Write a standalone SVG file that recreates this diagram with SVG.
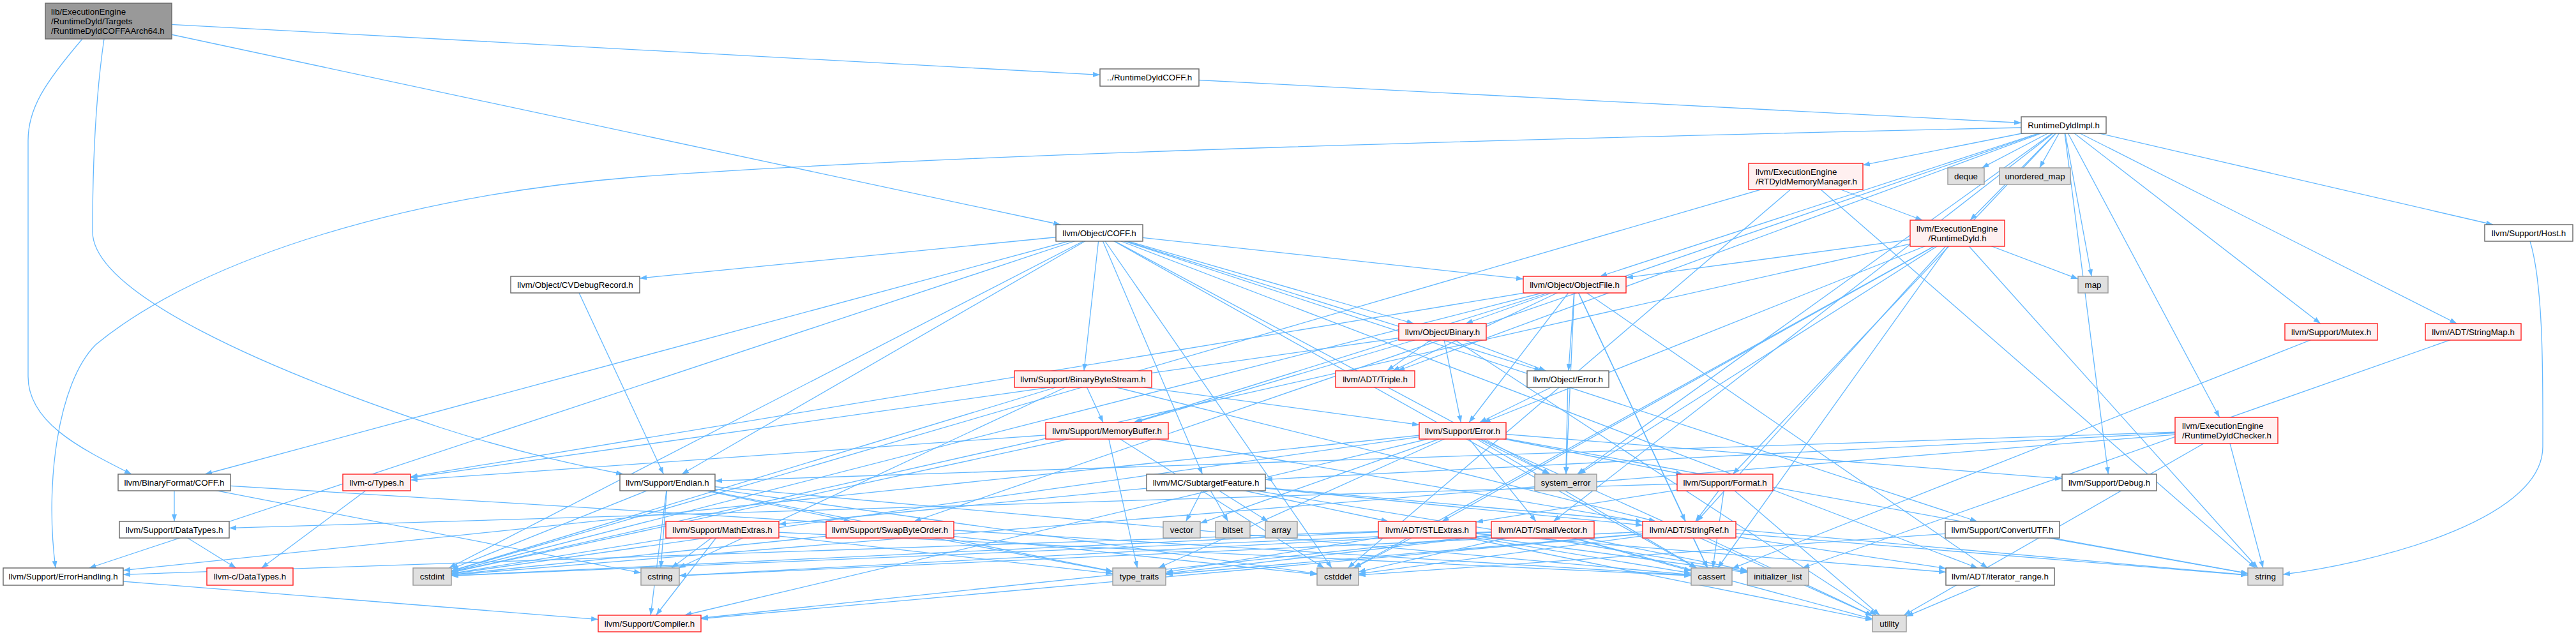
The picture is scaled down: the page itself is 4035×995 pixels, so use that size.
<svg xmlns="http://www.w3.org/2000/svg" width="4035" height="995" viewBox="0 0 4035 995">
<defs>
<marker id="arr" markerUnits="userSpaceOnUse" markerWidth="12" markerHeight="9" refX="11" refY="4" orient="auto"><path d="M0,0 L11,4 L0,8 Z" fill="#63b8ff"/></marker>
<style>
.e path{fill:none;stroke:#63b8ff;stroke-width:1.3;marker-end:url(#arr)}
rect{stroke-width:1.4}
.w rect{fill:#ffffff;stroke:#666666}
.r rect{fill:#fff0f0;stroke:#ff2020}
.g rect{fill:#e0e0e0;stroke:#999999}
.m rect{fill:#999999;stroke:#666666}
text{font-family:"Liberation Sans",Arial,Helvetica,sans-serif;font-size:13.33px;fill:#000}
.c{text-anchor:middle}
</style>
</defs>
<rect x="0" y="0" width="4035" height="995" fill="#ffffff" stroke="none"/>
<g id="connectors" class="e">
<path d="M170,33 L1723,117.3"/>
<path d="M170,33 L1661.2,352"/>
<path d="M129,61 C70,130 44,170 44,220 L44,590 C44,660 120,700 206,743"/>
<path d="M163,61 C150,150 145,250 145,363 C145,460 420,580 690,670 C820,712 920,732 976,743"/>
<path d="M1800.5,121.5 L3166,192.5"/>
<path d="M3232.5,196 L2918,258.7"/>
<path d="M3232.5,196 L3104.4,263"/>
<path d="M3232.5,196 L3194.8,263"/>
<path d="M3232.5,196 L3086,345"/>
<path d="M3232.5,196 L3276.1,433"/>
<path d="M3232.5,196 L3905,352"/>
<path d="M3232.5,196 L2506.3,433"/>
<path d="M3232.5,196 L3634.7,507"/>
<path d="M3232.5,196 L3848.3,507"/>
<path d="M3232.5,196 L2189.2,581"/>
<path d="M3232.5,196 L3476.6,654"/>
<path d="M3232.5,196 L2470.6,743"/>
<path d="M3232.5,196 L2714.3,743"/>
<path d="M3232.5,196 L3302.3,743"/>
<path d="M3232.5,196 L1431.7,817"/>
<path d="M3232.5,196 L2433.2,817"/>
<path d="M3166,200 C2500,215 1500,240 1000,277 C650,305 320,400 150,540 C90,600 70,760 87,890"/>
<path d="M2828.5,276.5 L3011.3,345"/>
<path d="M2828.5,276.5 L2111.3,890"/>
<path d="M2828.5,276.5 L707,894.8"/>
<path d="M2828.5,276.5 L3533,890"/>
<path d="M1722,365 L3097.6,890"/>
<path d="M1722,365 L321.2,743"/>
<path d="M1722,365 L2214.4,507"/>
<path d="M1722,365 L1002,436"/>
<path d="M1722,365 L2414.3,581"/>
<path d="M1722,365 L2386,437.2"/>
<path d="M1722,365 L1698,581"/>
<path d="M1722,365 L3097,817"/>
<path d="M1722,365 L1068,743"/>
<path d="M1722,365 L139.7,890"/>
<path d="M1722,365 L1883.4,743"/>
<path d="M1722,365 L2657,890"/>
<path d="M1722,365 L2086.1,890"/>
<path d="M1722,365 L703.2,890"/>
<path d="M1722,365 L2428.2,743"/>
<path d="M901,446 L1039.4,743"/>
<path d="M3066,365.5 L2547,435.2"/>
<path d="M3066,365.5 L3255,437.1"/>
<path d="M3066,365.5 L2258.7,817"/>
<path d="M3066,365.5 L2657.8,817"/>
<path d="M3066,365.5 L2323.6,662"/>
<path d="M3066,365.5 L2690.7,890"/>
<path d="M3066,365.5 L2119.9,890"/>
<path d="M3066,365.5 L707,896.7"/>
<path d="M3066,365.5 L3536.4,890"/>
<path d="M3066,365.5 L2472.9,743"/>
<path d="M3963,378 C3985,450 3983,600 3983,700 C3983,820 3700,885 3576,900"/>
<path d="M2466.5,446 L2295.9,507"/>
<path d="M2466.5,446 L2181.4,581"/>
<path d="M2466.5,446 L2456.9,581"/>
<path d="M2466.5,446 L2301,662"/>
<path d="M2466.5,446 L1775.6,662"/>
<path d="M2466.5,446 L2639.9,817"/>
<path d="M2466.5,446 L3113.3,890"/>
<path d="M2466.5,446 L2674.7,890"/>
<path d="M2466.5,446 L707,895.8"/>
<path d="M2466.5,446 L2453.1,743"/>
<path d="M2466.5,446 L643,747.2"/>
<path d="M2259.5,520 L643,748.5"/>
<path d="M2259.5,520 L2172.5,581"/>
<path d="M2259.5,520 L2421.5,581"/>
<path d="M2259.5,520 L2288.4,662"/>
<path d="M2259.5,520 L1778.1,662"/>
<path d="M2259.5,520 L2939.6,964"/>
<path d="M3651.5,520 L2713,890.9"/>
<path d="M3874,520 L2823.3,890"/>
<path d="M1696.5,594 L1728,662"/>
<path d="M1696.5,594 L2223,665.7"/>
<path d="M1696.5,594 L2593.7,817"/>
<path d="M1696.5,594 L707,894.4"/>
<path d="M1696.5,594 L1062.9,890"/>
<path d="M2456,594 L2317.5,662"/>
<path d="M2456,594 L2452.8,743"/>
<path d="M1734,675 L643,752.2"/>
<path d="M1734,675 L2573,817.6"/>
<path d="M1734,675 L2074.1,890"/>
<path d="M1734,675 L707,897"/>
<path d="M1734,675 L1781.5,890"/>
<path d="M2291,675 L2426.6,743"/>
<path d="M2291,675 L2636,743"/>
<path d="M2291,675 L2406,817"/>
<path d="M2291,675 L3230,750.1"/>
<path d="M2291,675 L1072.3,964"/>
<path d="M2291,675 L193,893.7"/>
<path d="M2291,675 L2658,890"/>
<path d="M2291,675 L707,899.3"/>
<path d="M2291,675 L3521,898.5"/>
<path d="M2291,675 L1814.4,890"/>
<path d="M2291,675 L2933,965"/>
<path d="M2291,675 L1880,819.8"/>
<path d="M3487.5,674.5 L1120,753.5"/>
<path d="M3487.5,674.5 L1982,751.3"/>
<path d="M3487.5,674.5 L3544.9,890"/>
<path d="M3487.5,674.5 L2982.2,964"/>
<path d="M3487.5,674.5 L707,901"/>
<path d="M273,756 L273,817"/>
<path d="M273,756 L2649,901.5"/>
<path d="M273,756 L1004,897.7"/>
<path d="M590,756 L409.7,890"/>
<path d="M1045.5,756 L1019.1,964"/>
<path d="M1045.5,756 L1332.8,817"/>
<path d="M1045.5,756 L2649,900.6"/>
<path d="M1045.5,756 L2063,898.9"/>
<path d="M1045.5,756 L707,891.5"/>
<path d="M1045.5,756 L1035,890"/>
<path d="M1045.5,756 L1743,895.2"/>
<path d="M1889,756 L1220,821.4"/>
<path d="M1889,756 L1857.7,817"/>
<path d="M1889,756 L1923.6,817"/>
<path d="M1889,756 L1986.3,817"/>
<path d="M1889,756 L2174.6,817"/>
<path d="M1889,756 L2573,822.9"/>
<path d="M1889,756 L3521,901"/>
<path d="M1889,756 L2737,895.6"/>
<path d="M2702,756 L2312,817.9"/>
<path d="M2702,756 L2655.8,817"/>
<path d="M2702,756 L359,827.4"/>
<path d="M2702,756 L2682.9,890"/>
<path d="M2702,756 L2944.4,964"/>
<path d="M273,830 L369.7,890"/>
<path d="M1131.5,830 L1027.6,964"/>
<path d="M1131.5,830 L1051.9,890"/>
<path d="M1131.5,830 L707,898.6"/>
<path d="M1131.5,830 L2649,902"/>
<path d="M1131.5,830 L1743,898.8"/>
<path d="M1394,830 L1743,895.7"/>
<path d="M1394,830 L2063,900.1"/>
<path d="M1394,830 L707,900.4"/>
<path d="M2235.5,830 L3048,896.5"/>
<path d="M2235.5,830 L193,900.3"/>
<path d="M2235.5,830 L2649,898.2"/>
<path d="M2235.5,830 L2121.2,890"/>
<path d="M2235.5,830 L707,902.1"/>
<path d="M2235.5,830 L2737,897.1"/>
<path d="M2235.5,830 L1826,896.7"/>
<path d="M2235.5,830 L2933,971.6"/>
<path d="M2416.5,830 L1098,968.5"/>
<path d="M2416.5,830 L2649,894.6"/>
<path d="M2416.5,830 L2128,896.1"/>
<path d="M2416.5,830 L707,902.2"/>
<path d="M2416.5,830 L1064,901.9"/>
<path d="M2416.5,830 L2737,893.9"/>
<path d="M2416.5,830 L1826,898.7"/>
<path d="M2416.5,830 L2933,969.8"/>
<path d="M2646,830 L3048,890.7"/>
<path d="M2646,830 L1098,969.7"/>
<path d="M2646,830 L2674.6,890"/>
<path d="M2646,830 L2128,899.2"/>
<path d="M2646,830 L1064,902.1"/>
<path d="M2646,830 L3521,901.3"/>
<path d="M2646,830 L1826,900"/>
<path d="M2646,830 L2933,964.6"/>
<path d="M3136.5,830 L2128,901.2"/>
<path d="M3136.5,830 L3521,898.6"/>
<path d="M99,903.5 L937,970.6"/>
<path d="M3133,903.5 L2986,965.8"/>
</g>
<g id="n-main" class="m"><rect x="71" y="5" width="198" height="56"/><text x="80" y="23">lib/ExecutionEngine</text><text x="80" y="38">/RuntimeDyld/Targets</text><text x="80" y="53">/RuntimeDyldCOFFAArch64.h</text></g>
<g id="n-rdcoff" class="w"><rect x="1723" y="108" width="155" height="27"/><text class="c" x="1800.5" y="126">../RuntimeDyldCOFF.h</text></g>
<g id="n-impl" class="w"><rect x="3166" y="183" width="133" height="26"/><text class="c" x="3232.5" y="200.5">RuntimeDyldImpl.h</text></g>
<g id="n-rtdmm" class="r"><rect x="2739" y="256" width="179" height="41"/><text x="2750" y="274">llvm/ExecutionEngine</text><text x="2750" y="289">/RTDyldMemoryManager.h</text></g>
<g id="n-deque" class="g"><rect x="3051" y="263" width="57" height="26"/><text class="c" x="3079.5" y="280.5">deque</text></g>
<g id="n-umap" class="g"><rect x="3132" y="263" width="111" height="26"/><text class="c" x="3187.5" y="280.5">unordered_map</text></g>
<g id="n-coff" class="w"><rect x="1654" y="352" width="136" height="26"/><text class="c" x="1722" y="369.5">llvm/Object/COFF.h</text></g>
<g id="n-rd" class="r"><rect x="2992" y="345" width="148" height="41"/><text x="3002" y="363">llvm/ExecutionEngine</text><text class="c" x="3066" y="378">/RuntimeDyld.h</text></g>
<g id="n-host" class="w"><rect x="3892" y="352" width="138" height="26"/><text class="c" x="3961" y="369.5">llvm/Support/Host.h</text></g>
<g id="n-cvdr" class="w"><rect x="800" y="433" width="202" height="26"/><text class="c" x="901" y="450.5">llvm/Object/CVDebugRecord.h</text></g>
<g id="n-of" class="r"><rect x="2386" y="433" width="161" height="26"/><text class="c" x="2466.5" y="450.5">llvm/Object/ObjectFile.h</text></g>
<g id="n-map" class="g"><rect x="3255" y="433" width="47" height="26"/><text class="c" x="3278.5" y="450.5">map</text></g>
<g id="n-binary" class="r"><rect x="2191" y="507" width="137" height="26"/><text class="c" x="2259.5" y="524.5">llvm/Object/Binary.h</text></g>
<g id="n-mutex" class="r"><rect x="3579" y="507" width="145" height="26"/><text class="c" x="3651.5" y="524.5">llvm/Support/Mutex.h</text></g>
<g id="n-stringmap" class="r"><rect x="3799" y="507" width="150" height="26"/><text class="c" x="3874" y="524.5">llvm/ADT/StringMap.h</text></g>
<g id="n-bbs" class="r"><rect x="1589" y="581" width="215" height="26"/><text class="c" x="1696.5" y="598.5">llvm/Support/BinaryByteStream.h</text></g>
<g id="n-triple" class="r"><rect x="2092" y="581" width="124" height="26"/><text class="c" x="2154" y="598.5">llvm/ADT/Triple.h</text></g>
<g id="n-oerr" class="w"><rect x="2392" y="581" width="128" height="26"/><text class="c" x="2456" y="598.5">llvm/Object/Error.h</text></g>
<g id="n-mb" class="r"><rect x="1638" y="662" width="192" height="26"/><text class="c" x="1734" y="679.5">llvm/Support/MemoryBuffer.h</text></g>
<g id="n-serr" class="r"><rect x="2223" y="662" width="136" height="26"/><text class="c" x="2291" y="679.5">llvm/Support/Error.h</text></g>
<g id="n-rdc" class="r"><rect x="3407" y="654" width="161" height="41"/><text x="3418" y="672">llvm/ExecutionEngine</text><text x="3418" y="687">/RuntimeDyldChecker.h</text></g>
<g id="n-bfcoff" class="w"><rect x="185" y="743" width="176" height="26"/><text class="c" x="273" y="760.5">llvm/BinaryFormat/COFF.h</text></g>
<g id="n-types" class="r"><rect x="537" y="743" width="106" height="26"/><text class="c" x="590" y="760.5">llvm-c/Types.h</text></g>
<g id="n-endian" class="w"><rect x="971" y="743" width="149" height="26"/><text class="c" x="1045.5" y="760.5">llvm/Support/Endian.h</text></g>
<g id="n-stf" class="w"><rect x="1796" y="743" width="186" height="26"/><text class="c" x="1889" y="760.5">llvm/MC/SubtargetFeature.h</text></g>
<g id="n-syserr" class="g"><rect x="2404" y="743" width="97" height="26"/><text class="c" x="2452.5" y="760.5">system_error</text></g>
<g id="n-format" class="r"><rect x="2627" y="743" width="150" height="26"/><text class="c" x="2702" y="760.5">llvm/Support/Format.h</text></g>
<g id="n-debug" class="w"><rect x="3230" y="743" width="148" height="26"/><text class="c" x="3304" y="760.5">llvm/Support/Debug.h</text></g>
<g id="n-datatypes" class="w"><rect x="187" y="817" width="172" height="26"/><text class="c" x="273" y="834.5">llvm/Support/DataTypes.h</text></g>
<g id="n-mathex" class="r"><rect x="1043" y="817" width="177" height="26"/><text class="c" x="1131.5" y="834.5">llvm/Support/MathExtras.h</text></g>
<g id="n-swap" class="r"><rect x="1294" y="817" width="200" height="26"/><text class="c" x="1394" y="834.5">llvm/Support/SwapByteOrder.h</text></g>
<g id="n-vector" class="g"><rect x="1822" y="817" width="58" height="26"/><text class="c" x="1851" y="834.5">vector</text></g>
<g id="n-bitset" class="g"><rect x="1904" y="817" width="54" height="26"/><text class="c" x="1931" y="834.5">bitset</text></g>
<g id="n-array" class="g"><rect x="1982" y="817" width="50" height="26"/><text class="c" x="2007" y="834.5">array</text></g>
<g id="n-stl" class="r"><rect x="2159" y="817" width="153" height="26"/><text class="c" x="2235.5" y="834.5">llvm/ADT/STLExtras.h</text></g>
<g id="n-sv" class="r"><rect x="2336" y="817" width="161" height="26"/><text class="c" x="2416.5" y="834.5">llvm/ADT/SmallVector.h</text></g>
<g id="n-sr" class="r"><rect x="2573" y="817" width="146" height="26"/><text class="c" x="2646" y="834.5">llvm/ADT/StringRef.h</text></g>
<g id="n-cutf" class="w"><rect x="3047" y="817" width="179" height="26"/><text class="c" x="3136.5" y="834.5">llvm/Support/ConvertUTF.h</text></g>
<g id="n-eh" class="w"><rect x="5" y="890" width="188" height="27"/><text class="c" x="99" y="908">llvm/Support/ErrorHandling.h</text></g>
<g id="n-cdt" class="r"><rect x="324" y="890" width="135" height="27"/><text class="c" x="391.5" y="908">llvm-c/DataTypes.h</text></g>
<g id="n-cstdint" class="g"><rect x="647" y="890" width="60" height="27"/><text class="c" x="677" y="908">cstdint</text></g>
<g id="n-cstring" class="g"><rect x="1004" y="890" width="60" height="27"/><text class="c" x="1034" y="908">cstring</text></g>
<g id="n-tt" class="g"><rect x="1743" y="890" width="83" height="27"/><text class="c" x="1784.5" y="908">type_traits</text></g>
<g id="n-cstddef" class="g"><rect x="2063" y="890" width="65" height="27"/><text class="c" x="2095.5" y="908">cstddef</text></g>
<g id="n-cassert" class="g"><rect x="2649" y="890" width="64" height="27"/><text class="c" x="2681" y="908">cassert</text></g>
<g id="n-il" class="g"><rect x="2737" y="890" width="96" height="27"/><text class="c" x="2785" y="908">initializer_list</text></g>
<g id="n-ir" class="w"><rect x="3048" y="890" width="170" height="27"/><text class="c" x="3133" y="908">llvm/ADT/iterator_range.h</text></g>
<g id="n-string" class="g"><rect x="3521" y="890" width="55" height="27"/><text class="c" x="3548.5" y="908">string</text></g>
<g id="n-compiler" class="r"><rect x="937" y="964" width="161" height="26"/><text class="c" x="1017.5" y="981.5">llvm/Support/Compiler.h</text></g>
<g id="n-utility" class="g"><rect x="2933" y="964" width="53" height="26"/><text class="c" x="2959.5" y="981.5">utility</text></g>
</svg>
